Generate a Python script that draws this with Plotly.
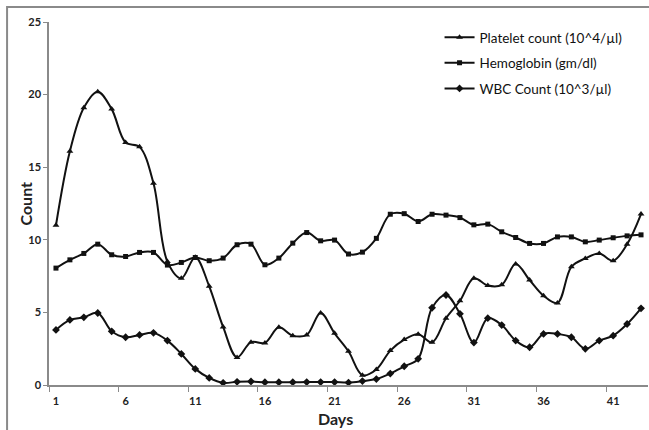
import plotly.graph_objects as go

days = list(range(1, 44))
platelet = [11.0, 16.1, 19.1, 20.2, 19.0, 16.7, 16.4, 13.9, 8.5, 7.35, 8.8,
            6.8, 4.0, 1.9, 2.95, 2.9, 3.97, 3.4, 3.45, 4.96, 3.56, 2.32,
            0.68, 1.07, 2.37, 3.13, 3.5, 2.94, 4.6, 5.8, 7.35, 6.85, 6.9,
            8.33, 7.23, 6.15, 5.65, 8.14, 8.72, 9.06, 8.56, 9.7, 11.77]
hemoglobin = [8.05, 8.62, 9.06, 9.7, 8.97, 8.85, 9.13, 9.13, 8.26, 8.44, 8.78,
              8.56, 8.74, 9.66, 9.7, 8.28, 8.74, 9.77, 10.5, 9.93, 9.98, 9.02,
              9.15, 10.1, 11.76, 11.8, 11.26, 11.76, 11.7, 11.53, 11.03, 11.08, 10.55,
              10.16, 9.75, 9.75, 10.2, 10.2, 9.86, 9.98, 10.14, 10.27, 10.34]
wbc = [3.79, 4.48, 4.66, 4.96, 3.7, 3.29, 3.45, 3.59, 3.06, 2.14, 1.11,
       0.49, 0.15, 0.22, 0.24, 0.19, 0.19, 0.19, 0.2, 0.2, 0.2, 0.17,
       0.27, 0.41, 0.79, 1.29, 1.8, 5.32, 6.2, 4.9, 2.92, 4.6, 4.13,
       3.06, 2.6, 3.52, 3.52, 3.29, 2.49, 3.06, 3.4, 4.2, 5.28]

x_tick_labels = [1, 6, 11, 16, 21, 26, 31, 36, 41]
y_ticks = [0, 5, 10, 15, 20, 25]

series_names = ["Platelet count (10^4/µl)", "Hemoglobin (gm/dl)", "WBC Count (10^3/µl)"]
x_title = "Days"
y_title = "Count"

FONT = "Lato"
fig = go.Figure()
specs = [(platelet, "triangle-up", 6), (hemoglobin, "square", 5), (wbc, "diamond", 6)]
for i, ((vals, sym, sz), name) in enumerate(zip(specs, series_names)):
    fig.add_trace(go.Scatter(
        x=days, y=vals, name=name, mode="lines+markers",
        line=dict(color="#111111", width=2, shape="spline", smoothing=1.0),
        marker=dict(symbol=sym, size=sz, color="#111111"),
        legendgroup=f"g{i}",
    ))

fig.update_layout(
    width=649, height=430,
    margin=dict(l=49, r=1, t=22, b=45),
    paper_bgcolor="white", plot_bgcolor="white",
    font=dict(family=FONT, color="#222222"),
    showlegend=True,
    legend=dict(x=0.652, y=1.0, xanchor="left", yanchor="top",
                font=dict(family=FONT, size=13.5, color="#111111"),
                bgcolor="rgba(0,0,0,0)", traceorder="grouped", tracegroupgap=5),
    xaxis=dict(range=[0.5, 43.5], showline=True, linecolor="#8a8a8a", linewidth=1.5,
               showgrid=False, zeroline=False, tickmode="array",
               tickvals=x_tick_labels, ticktext=[str(v) for v in x_tick_labels],
               ticks="outside", ticklen=5, tickcolor="rgba(0,0,0,0)",
               tickfont=dict(family=FONT, size=11, weight="bold", color="#222222"),
               minor=dict(tickmode="array", tickvals=[v - 0.5 for v in x_tick_labels],
                          ticks="outside", ticklen=5, tickcolor="#8a8a8a", tickwidth=1)),
    yaxis=dict(range=[0, 25], showline=True, linecolor="#8a8a8a", linewidth=1.5,
               showgrid=False, zeroline=False, tickmode="array", tickvals=y_ticks,
               ticks="outside", ticklen=4, tickcolor="#8a8a8a",
               tickfont=dict(family=FONT, size=11, weight="bold", color="#222222")),
)

fig.add_annotation(text=x_title, xref="paper", yref="paper", x=0.4775, y=-0.092,
                   xanchor="center", yanchor="middle", showarrow=False,
                   font=dict(family=FONT, size=16, weight="bold", color="#222222"))
fig.add_annotation(text=y_title, xref="paper", yref="paper", x=-0.0384, y=0.5,
                   xanchor="center", yanchor="middle", showarrow=False, textangle=-90,
                   font=dict(family=FONT, size=16, weight="bold", color="#222222"))

# outer frame of the original figure
fig.add_shape(type="rect", xref="paper", yref="paper",
              x0=-0.070, x1=1.2, y0=-0.3, y1=1.041,
              line=dict(color="#8a8a8a", width=2), fillcolor="rgba(0,0,0,0)", layer="below")

fig.write_html("out.html", config={"displayModeBar": False},
               post_script="document.body.style.margin='0';")
